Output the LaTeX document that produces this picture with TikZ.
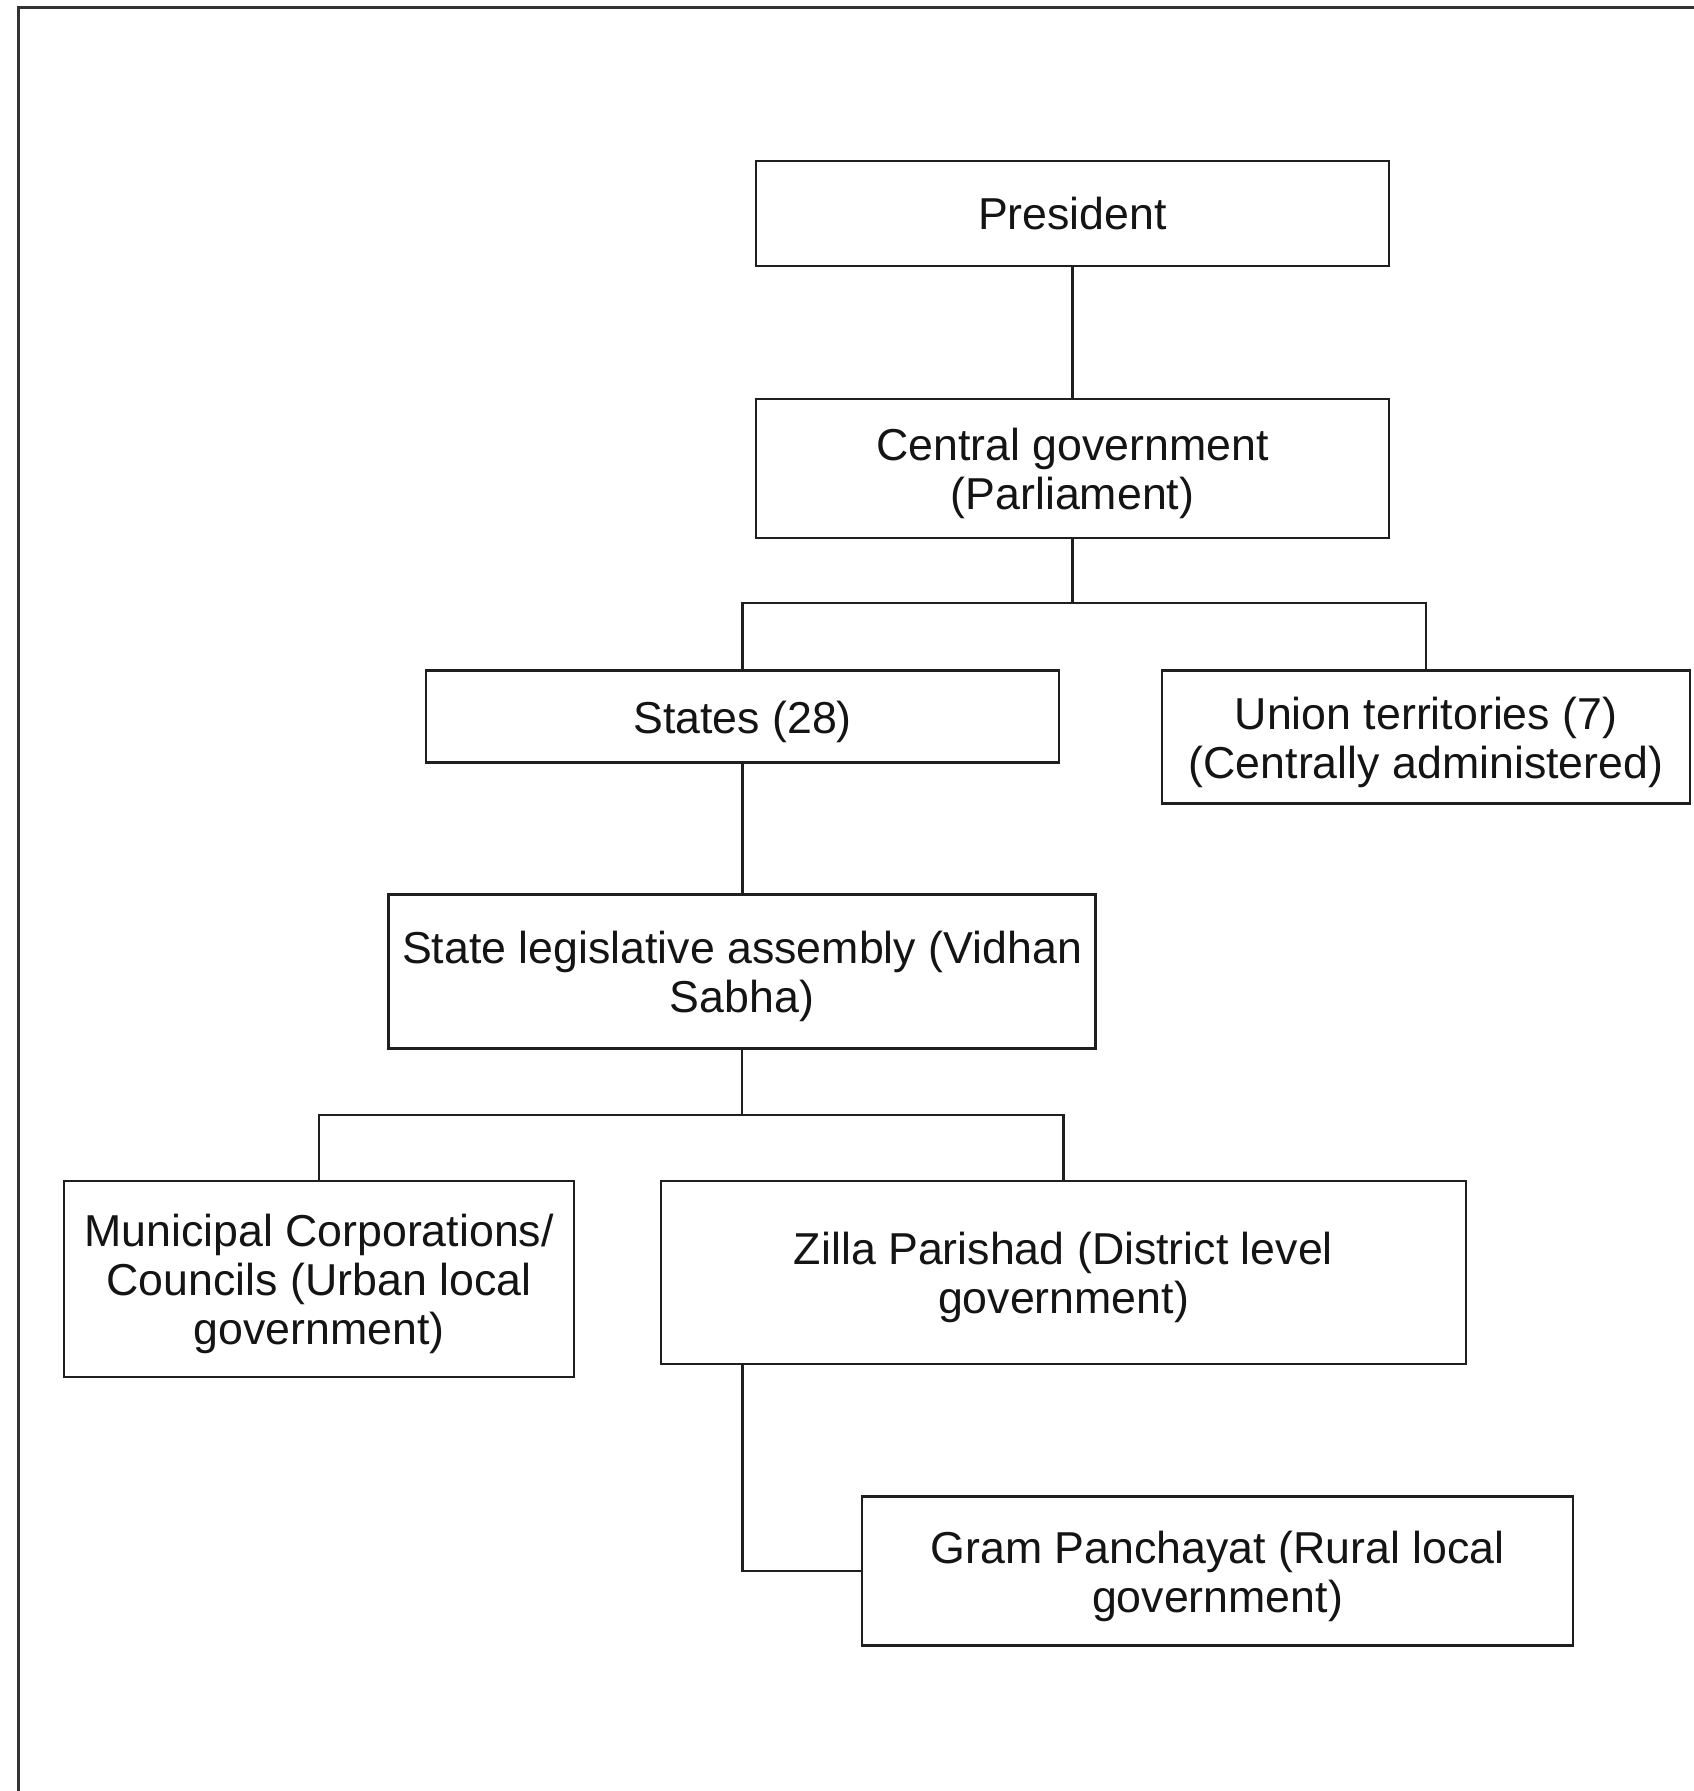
\documentclass[tikz,border=0pt]{standalone}
\usepackage{fontspec}
\setmainfont{Liberation Sans}
\begin{document}
\begin{tikzpicture}[x=1pt,y=-1pt,
  orgbox/.style={draw=black!88, line width=2.6pt, fill=white, inner sep=0pt},
  boxtext/.style={inner sep=0pt, yshift=-5pt, align=center, text=black!92,
    font=\fontsize{44.7}{49}\selectfont},
  link/.style={draw=black!88, line width=2.2pt},
  frameline/.style={draw=black!80, line width=3pt}]
\useasboundingbox (0,0) rectangle (1694,1791);
\draw[frameline] (18,1791) -- (18,7) -- (1694,7);

\node[orgbox, minimum width=633pt, minimum height=105pt,
  label={[boxtext, yshift=5pt]center:President}] (pres) at (1072.5,213.5) {};
\node[orgbox, minimum width=633pt, minimum height=139pt,
  label={[boxtext]center:Central government\\(Parliament)}] (cent) at (1072.5,468.5) {};
\node[orgbox, minimum width=633pt, minimum height=92pt,
  label={[boxtext]center:States (28)}] (states) at (742.5,716.5) {};
\node[orgbox, minimum width=528pt, minimum height=133pt,
  label={[boxtext]center:Union territories (7)\\(Centrally administered)}] (ut) at (1426,737) {};
\node[orgbox, minimum width=707pt, minimum height=154pt,
  label={[boxtext]center:State legislative assembly (Vidhan\\Sabha)}] (sla) at (742,971.5) {};
\node[orgbox, minimum width=510pt, minimum height=196pt,
  label={[boxtext]center:Municipal Corporations/\\Councils (Urban local\\government)}] (muni) at (319,1279) {};
\node[orgbox, minimum width=805pt, minimum height=183pt,
  label={[boxtext]center:Zilla Parishad (District level\\government)}] (zilla) at (1063.5,1272.5) {};
\node[orgbox, minimum width=711pt, minimum height=149pt,
  label={[boxtext]center:Gram Panchayat (Rural local\\government)}] (gram) at (1217.5,1571) {};

\coordinate (j1) at (1072.5,603);
\coordinate (j2) at (742,1115);

\draw[link] (pres.south) -- (cent.north);
\draw[link] (cent.south) -- (j1);
\draw[link] (states.north) -- (states.north |- j1) -- (ut.north |- j1) -- (ut.north);
\draw[link] (states.south) -- (sla.north -| states.south);
\draw[link] (sla.south) -- (j2);
\draw[link] (muni.north) -- (muni.north |- j2) -- (zilla.north |- j2) -- (zilla.north);
\draw[link] (zilla.south -| states.south) |- (gram.west);
\end{tikzpicture}
\end{document}
